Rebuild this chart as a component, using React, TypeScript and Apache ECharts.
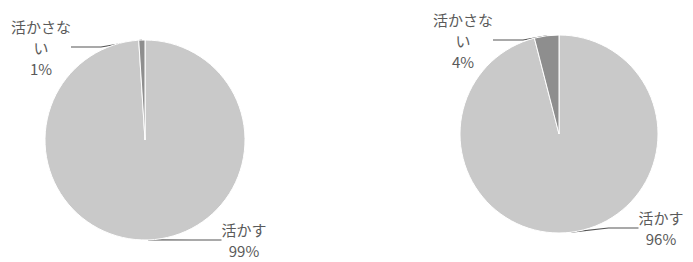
import React, { useEffect, useRef } from "react";
import * as echarts from "echarts";

const categories = ["活かす", "活かさない"];
const leftValues = [99, 1];
const rightValues = [96, 4];

const sliceColors = ["#c9c9c9", "#8e8e8e"];

// label anchor positions (px) per chart: [活かす, 活かさない]
const leftLabelPos = [
  [244, 240],
  [41, 47],
];
const rightLabelPos = [
  [661, 228],
  [463, 40],
];

function makeSeries(values: number[], center: [number, number], radius: number, pos: number[][]) {
  return {
    type: "pie",
    center,
    radius,
    startAngle: 90,
    clockwise: true,
    avoidLabelOverlap: false,
    itemStyle: { borderColor: "#ffffff", borderWidth: 1 },
    label: {
      show: true,
      formatter: (p: any) =>
        (p.name === "活かさない" ? "活かさな\nい" : p.name) + "\n" + p.value + "%",
      color: "#5a5a5a",
      fontSize: 15,
      lineHeight: 21,
      align: "center",
      fontFamily: "'Noto Sans CJK JP', sans-serif",
    },
    labelLine: {
      show: true,
      lineStyle: { color: "#555555", width: 1.2 },
    },
    labelLayout: (params: any) => {
      const p = pos[params.dataIndex];
      return {
        x: p[0],
        y: p[1],
        align: "center",
        verticalAlign: "middle",
      };
    },
    emphasis: { disabled: true },
    data: categories.map((c, i) => ({
      name: c,
      value: values[i],
      itemStyle: { color: sliceColors[i] },
    })),
  };
}

export default function App() {
  const ref = useRef<HTMLDivElement>(null);
  useEffect(() => {
    if (!ref.current) return;
    const chart = echarts.init(ref.current, undefined, { renderer: "svg" });
    chart.setOption({
      animation: false,
      backgroundColor: "#ffffff",
      series: [
        makeSeries(leftValues, [145, 140], 100, leftLabelPos),
        makeSeries(rightValues, [559, 134], 99, rightLabelPos),
      ],
    });
    return () => chart.dispose();
  }, []);
  return (
    <div
      ref={ref}
      style={{ position: "fixed", left: 0, top: 0, width: 693, height: 262, background: "#fff" }}
    />
  );
}
